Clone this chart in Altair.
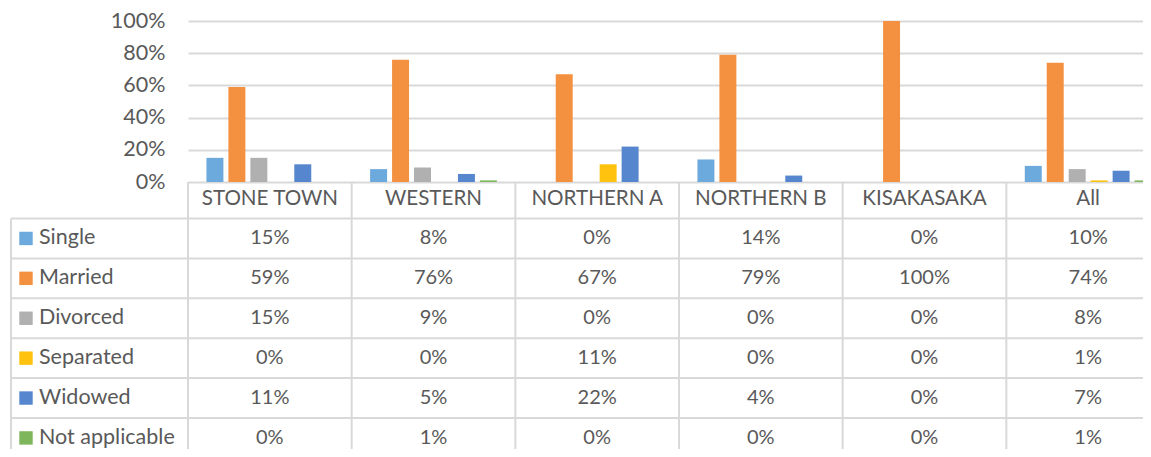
import altair as alt
import pandas as pd

# ---- data ----
regions = ["STONE TOWN", "WESTERN", "NORTHERN A", "NORTHERN B", "KISAKASAKA", "All"]
series = ["Single", "Married", "Divorced", "Separated", "Widowed", "Not applicable"]
colors = ["#6CA9DD", "#F39140", "#B0B0B0", "#FFC20E", "#5687CE", "#7DB65B"]
single = [15, 8, 0, 14, 0, 10]
married = [59, 76, 67, 79, 100, 74]
divorced = [15, 9, 0, 0, 0, 8]
separated = [0, 0, 11, 0, 0, 1]
widowed = [11, 5, 22, 4, 0, 7]
not_applicable = [0, 1, 0, 0, 0, 1]
y_ticks = [0, 20, 40, 60, 80, 100]

values = [single, married, divorced, separated, widowed, not_applicable]
rows = ["header"] + series

# ---- layout constants ----
PAD_L, PAD_T = 180, 13
W = 1151 - 16 - PAD_L          # visible plot width
H = 457 - 16 - PAD_T           # visible plot height
COL_SPAN = 982                 # six columns of ~163.6 px (last one runs past the edge)
BAR_H = 161
ROW_H = 39.9
TAB_TOP = BAR_H - 3.4
TABLE_BOTTOM = TAB_TOP + 7 * ROW_H + 10
LEFT = -177
FONT = "Lato"
TXT = "#595959"
GRID = "#D9D9D9"

df = pd.DataFrame([
    {"region": r, "series": s, "row": s, "value": v[i], "label": f"{v[i]}%"}
    for s, v in zip(series, values) for i, r in enumerate(regions)
])
hdr = pd.DataFrame({"region": regions, "row": ["header"] * len(regions), "label": regions})
leg = pd.DataFrame({"row": series, "series": series})
one = pd.DataFrame({"k": [0]})

x_scale = alt.Scale(domain=regions, range=[0, COL_SPAN], paddingInner=0, paddingOuter=0)
color_scale = alt.Scale(domain=series, range=colors)
y_tab = alt.Scale(domain=rows, range=[TAB_TOP, TAB_TOP + 7 * ROW_H], paddingInner=0, paddingOuter=0)

bars = alt.Chart(df).mark_bar().encode(
    x=alt.X("region:N", sort=regions, scale=x_scale, axis=None),
    xOffset=alt.XOffset("series:N", sort=series,
                        scale=alt.Scale(domain=series, paddingInner=0.227, paddingOuter=0.84)),
    y=alt.Y("value:Q", scale=alt.Scale(domain=[0, 100], range=[BAR_H, 0]),
            axis=alt.Axis(values=y_ticks, labelExpr="datum.value + '%'", domain=False, ticks=False,
                          grid=True, gridColor=GRID, gridWidth=2, labelFont=FONT, labelFontSize=21.5,
                          labelColor=TXT, labelPadding=23, title=None)),
    color=alt.Color("series:N", scale=color_scale, legend=None),
)

hlines = alt.Chart(leg).mark_rule(color=GRID, strokeWidth=2).encode(
    y=alt.Y("row:N", scale=y_tab, axis=None, bandPosition=0),
    x=alt.value(LEFT), x2=alt.value(W),
)
vlines = alt.Chart(hdr).mark_rule(color=GRID, strokeWidth=2).encode(
    x=alt.X("region:N", scale=x_scale, axis=None, bandPosition=0),
    y=alt.value(BAR_H), y2=alt.value(TABLE_BOTTOM),
)
left_line = alt.Chart(one).mark_rule(color=GRID, strokeWidth=2).encode(
    x=alt.value(LEFT), y=alt.value(TAB_TOP + ROW_H), y2=alt.value(TABLE_BOTTOM),
)
head_text = alt.Chart(hdr).mark_text(font=FONT, fontSize=20.6, color=TXT).encode(
    x=alt.X("region:N", scale=x_scale, axis=None),
    y=alt.Y("row:N", scale=y_tab, axis=None),
    text="label:N",
)
cell_text = alt.Chart(df).mark_text(font=FONT, fontSize=20, color=TXT).encode(
    x=alt.X("region:N", scale=x_scale, axis=None),
    y=alt.Y("row:N", scale=y_tab, axis=None),
    text="label:N",
)
leg_sq = alt.Chart(leg).mark_square(size=180, opacity=1).encode(
    x=alt.value(LEFT + 15),
    y=alt.Y("row:N", scale=y_tab, axis=None),
    color=alt.Color("series:N", scale=color_scale, legend=None),
)
leg_text = alt.Chart(leg).mark_text(font=FONT, fontSize=21.5, color=TXT, align="left").encode(
    x=alt.value(LEFT + 28),
    y=alt.Y("row:N", scale=y_tab, axis=None),
    text="row:N",
)

table = alt.layer(hlines, vlines, left_line, leg_sq, leg_text, head_text, cell_text)

chart = alt.layer(bars, table).resolve_scale(y="independent").properties(
    width=W, height=H,
    padding={"left": PAD_L, "top": PAD_T, "right": 0, "bottom": 0},
    autosize=alt.AutoSizeParams(type="none"),
).configure_view(stroke=None)

chart.save("out.html", embed_options={"renderer": "svg", "actions": False})
